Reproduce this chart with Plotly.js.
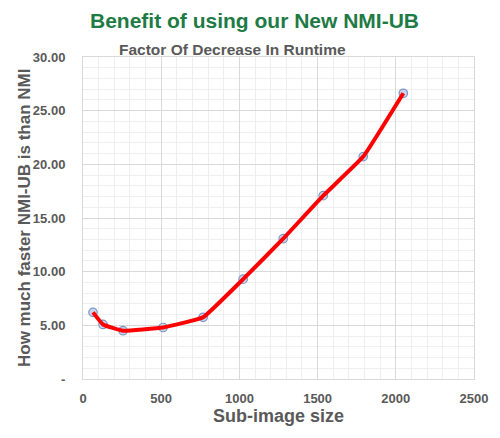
<!DOCTYPE html>
<html><head><meta charset="utf-8">
<script src="https://cdn.plot.ly/plotly-3.0.1.min.js"></script>
<style>html,body{margin:0;padding:0;background:#fff}#chart{width:500px;height:438px}</style>
</head><body><div id="chart"></div>
<script>
const subImageSize = [64, 128, 256, 512, 768, 1024, 1280, 1536, 1792, 2048];
const speedupFactor = [6.21, 5.08, 4.50, 4.80, 5.75, 9.30, 13.07, 17.08, 20.72, 26.62];
const yTickVals = [0, 5, 10, 15, 20, 25, 30];
const yTickText = ['-', '5.00', '10.00', '15.00', '20.00', '25.00', '30.00'];

const grey = '#595959';
const font = 'Liberation Sans, Arial, sans-serif';

const traces = [
  {x: subImageSize, y: speedupFactor, mode: 'markers', type: 'scatter',
   marker: {symbol: 'circle', size: 8.5, color: '#c9d5ea', line: {color: '#7f95c4', width: 1.2}},
   hoverinfo: 'skip', showlegend: false},
  {x: subImageSize, y: speedupFactor, mode: 'lines', type: 'scatter',
   line: {color: '#ff0000', width: 4, shape: 'spline', smoothing: 0.3}, showlegend: false}
];

const layout = {
  width: 500, height: 438,
  margin: {l: 83, r: 26, t: 57, b: 59},
  paper_bgcolor: '#ffffff', plot_bgcolor: '#ffffff',
  font: {family: font, color: grey},
  showlegend: false,
  xaxis: {
    range: [0, 2500], tickvals: [0, 500, 1000, 1500, 2000, 2500],
    tickfont: {size: 13, color: grey, family: font, weight: 'bold'},
    showgrid: true, gridcolor: '#d9d9d9', gridwidth: 1,
    minor: {dtick: 100, showgrid: true, gridcolor: '#efefef', gridwidth: 1},
    showline: true, linecolor: '#d9d9d9', linewidth: 1, mirror: true,
    zeroline: false, ticks: '', ticklen: 0, ticklabelstandoff: 7,
    title: {text: '<b>Sub-image size</b>', font: {size: 18, color: grey, family: font}, standoff: 2}
  },
  yaxis: {
    range: [0, 30], tickvals: yTickVals, ticktext: yTickText,
    tickfont: {size: 13, color: grey, family: font, weight: 'bold'},
    showgrid: true, gridcolor: '#d9d9d9', gridwidth: 1,
    minor: {dtick: 1, showgrid: true, gridcolor: '#efefef', gridwidth: 1},
    showline: true, linecolor: '#d9d9d9', linewidth: 1, mirror: true,
    zeroline: false, ticks: '', ticklen: 0, ticklabelstandoff: 14
  },
  annotations: [
    {text: '<b>Benefit of using our New NMI-UB</b>', xref: 'paper', yref: 'paper',
     x: (254 - 83) / 391, y: 1, yshift: 37, xanchor: 'center', yanchor: 'middle',
     showarrow: false, font: {size: 21, color: '#1e7b45', family: font}},
    {text: '<b>Factor Of Decrease In Runtime</b>', xref: 'paper', yref: 'paper',
     x: (232 - 83) / 391, y: 1, yshift: 8, xanchor: 'center', yanchor: 'middle',
     showarrow: false, font: {size: 15.5, color: grey, family: font}},
    {text: '<b>How much faster NMI-UB is than NMI</b>', xref: 'paper', yref: 'paper',
     x: 0, xshift: -59, y: 0.5, textangle: -90, xanchor: 'center', yanchor: 'middle',
     showarrow: false, font: {size: 17, color: grey, family: font}}
  ]
};

Plotly.newPlot('chart', traces, layout, {displayModeBar: false, staticPlot: true});
</script>
</body></html>
